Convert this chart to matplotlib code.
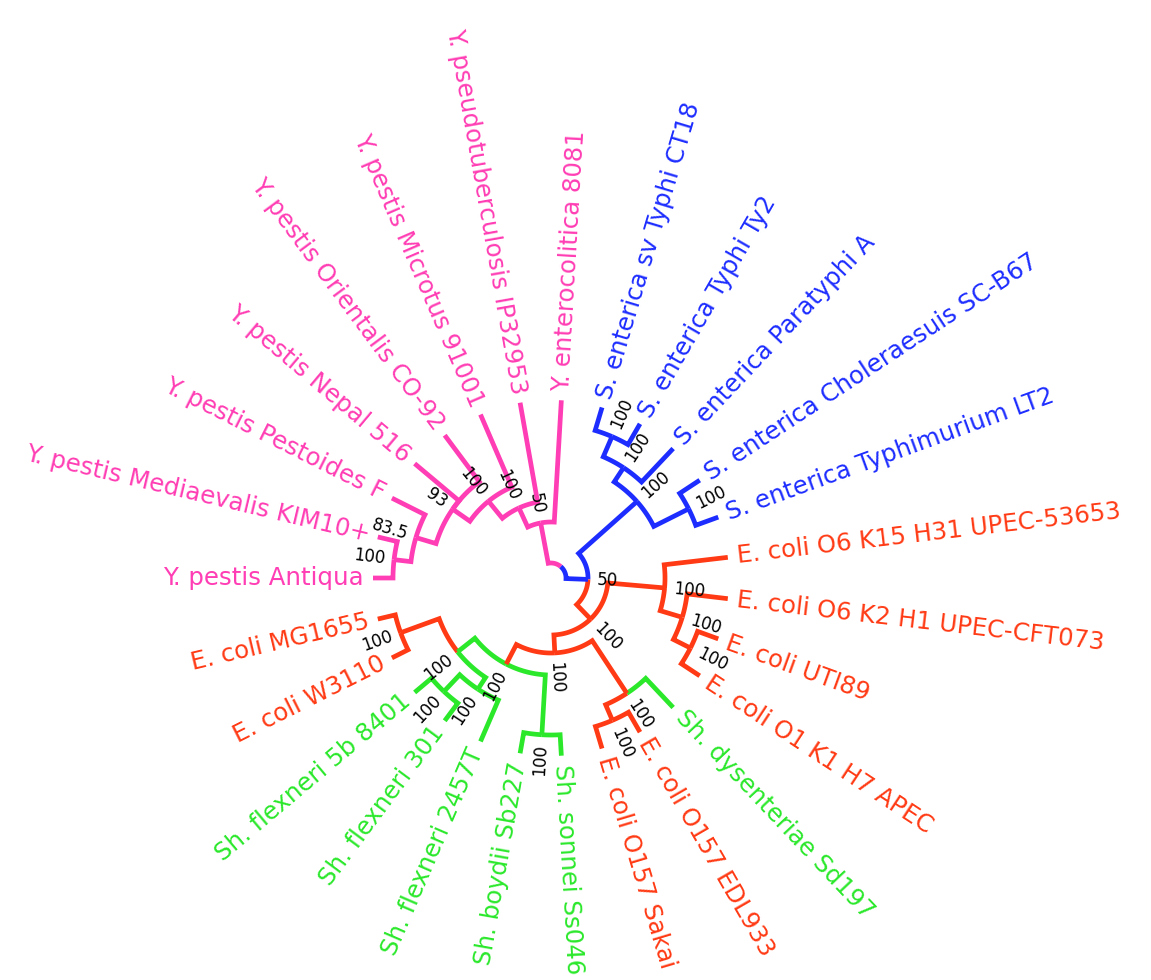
import numpy as np
import matplotlib
matplotlib.use("Agg")
import matplotlib.pyplot as plt

# ---------------- data ----------------
leaf_names = [
    "Y. pestis Antiqua", "Y. pestis Mediaevalis KIM10+", "Y. pestis Pestoides F",
    "Y. pestis Nepal 516", "Y. pestis Orientalis CO-92", "Y. pestis Microtus 91001",
    "Y. pseudotuberculosis IP32953", "Y. enterocolitica 8081",
    "S. enterica sv Typhi CT18", "S. enterica Typhi Ty2", "S. enterica Paratyphi A",
    "S. enterica Choleraesuis SC-B67", "S. enterica Typhimurium LT2",
    "E. coli O6 K15 H31 UPEC-53653", "E. coli O6 K2 H1 UPEC-CFT073", "E. coli UTI89",
    "E. coli O1 K1 H7 APEC", "Sh. dysenteriae Sd197", "E. coli O157 EDL933",
    "E. coli O157 Sakai", "Sh. sonnei Ss046", "Sh. boydii Sb227", "Sh. flexneri 2457T",
    "Sh. flexneri 301", "Sh. flexneri 5b 8401", "E. coli W3110", "E. coli MG1655",
]
leaf_groups = (["Y"] * 8 + ["S"] * 5 +
               ["E", "E", "E", "E", "Sh", "E", "E", "Sh", "Sh", "Sh", "Sh", "Sh", "E", "E"])

# internal nodes: name, children, depth (distance from centre), bootstrap, group
node_names = ["P6", "P5", "P3", "P2", "P1", "P0",
              "S2", "S1", "S4", "S0",
              "U2", "U1", "U0", "O157", "D0", "SB", "F1", "FL", "EM",
              "EC3", "EC2", "EC1", "EC0", "SE", "root"]
node_children = [
    ["Y. pestis Mediaevalis KIM10+", "Y. pestis Antiqua"],
    ["Y. pestis Pestoides F", "P6"],
    ["Y. pestis Orientalis CO-92", "Y. pestis Nepal 516", "P5"],
    ["Y. pestis Microtus 91001", "P3"],
    ["Y. pseudotuberculosis IP32953", "P2"],
    ["Y. enterocolitica 8081", "P1"],
    ["S. enterica sv Typhi CT18", "S. enterica Typhi Ty2"],
    ["S2", "S. enterica Paratyphi A"],
    ["S. enterica Choleraesuis SC-B67", "S. enterica Typhimurium LT2"],
    ["S1", "S4"],
    ["E. coli UTI89", "E. coli O1 K1 H7 APEC"],
    ["E. coli O6 K2 H1 UPEC-CFT073", "U2"],
    ["E. coli O6 K15 H31 UPEC-53653", "U1"],
    ["E. coli O157 EDL933", "E. coli O157 Sakai"],
    ["Sh. dysenteriae Sd197", "O157"],
    ["Sh. sonnei Ss046", "Sh. boydii Sb227"],
    ["Sh. flexneri 301", "Sh. flexneri 5b 8401"],
    ["Sh. flexneri 2457T", "F1"],
    ["E. coli W3110", "E. coli MG1655"],
    ["FL", "EM"],
    ["SB", "EC3"],
    ["D0", "EC2"],
    ["U0", "EC1"],
    ["S0", "EC0"],
    ["P0", "SE"],
]
node_depth = [158, 141, 120, 99, 77, 56,
              154, 132, 154, 115,
              156, 137, 114, 155, 138, 157, 156, 133, 160,
              119, 97, 75, 57, 37, 15]
node_support = ["100", "83.5", "93", "100", "100", "50",
                "100", "100", "100", "100",
                "100", "100", "100", "100", "100", "100", "100", "100", "100",
                "100", "100", "100", "100", "50", ""]
node_groups = ["Y"] * 6 + ["S"] * 4 + ["E", "E", "E", "E", "E", "Sh", "Sh", "Sh", "E",
                                      "Sh", "E", "E", "E", "S", "Y"]
leaf_depth = 178

group_colors = {"Y": "#FF3DB4", "S": "#1D2DFF", "E": "#FF3A14", "Sh": "#2BE82B"}

# ---------------- layout ----------------
n_leaf = len(leaf_names)
angle, depth, color = {}, {}, {}
for i, (nm, g) in enumerate(zip(leaf_names, leaf_groups)):
    angle[nm] = 180.0 - i * 360.0 / n_leaf
    depth[nm] = leaf_depth
    color[nm] = group_colors[g]
children = dict(zip(node_names, node_children))
for nm, d, g in zip(node_names, node_depth, node_groups):
    depth[nm] = d
    color[nm] = group_colors[g]


def layout(nm):
    if nm not in children:
        return angle[nm]
    a = [layout(c) for c in children[nm]]
    angle[nm] = (a[0] + a[-1]) / 2.0
    return angle[nm]


layout("root")

# ---------------- drawing ----------------
W, H = 1151, 980
cx, cy = 551, 578
fig = plt.figure(figsize=(W / 100, H / 100), dpi=100)
ax = fig.add_axes([0, 0, 1, 1])
ax.set_xlim(-cx, W - cx)
ax.set_ylim(-(H - cy), cy)
ax.set_aspect("equal")
ax.axis("off")

LW = 3.4


def pol(r, a):
    t = np.radians(a)
    return r * np.cos(t), r * np.sin(t)


for nm in node_names:
    r0, a0 = depth[nm], angle[nm]
    for c in children[nm]:
        ac = angle[c]
        arc = np.linspace(a0, ac, 60)
        xs, ys = pol(r0, arc)
        x2, y2 = pol(depth[c], ac)
        ax.plot(np.append(xs, x2), np.append(ys, y2), color=color[c], lw=LW,
                solid_capstyle="butt", solid_joinstyle="miter")

# bootstrap labels
for nm, sup in zip(node_names, node_support):
    if not sup:
        continue
    a = angle[nm]
    x, y = pol(depth[nm] + 9, a)
    right = -90 < a < 90
    ax.text(x, y, sup, fontsize=12, color="black",
            rotation=a if right else a - 180, rotation_mode="anchor",
            ha="left" if right else "right", va="center")

# leaf labels
for nm in leaf_names:
    a = angle[nm]
    x, y = pol(leaf_depth + 9, a)
    right = -90 < a < 90
    ax.text(x, y, nm, fontsize=17.6, color=color[nm],
            rotation=a if right else a - 180, rotation_mode="anchor",
            ha="left" if right else "right", va="center")

fig.savefig("out.png", dpi=100, facecolor="white")
